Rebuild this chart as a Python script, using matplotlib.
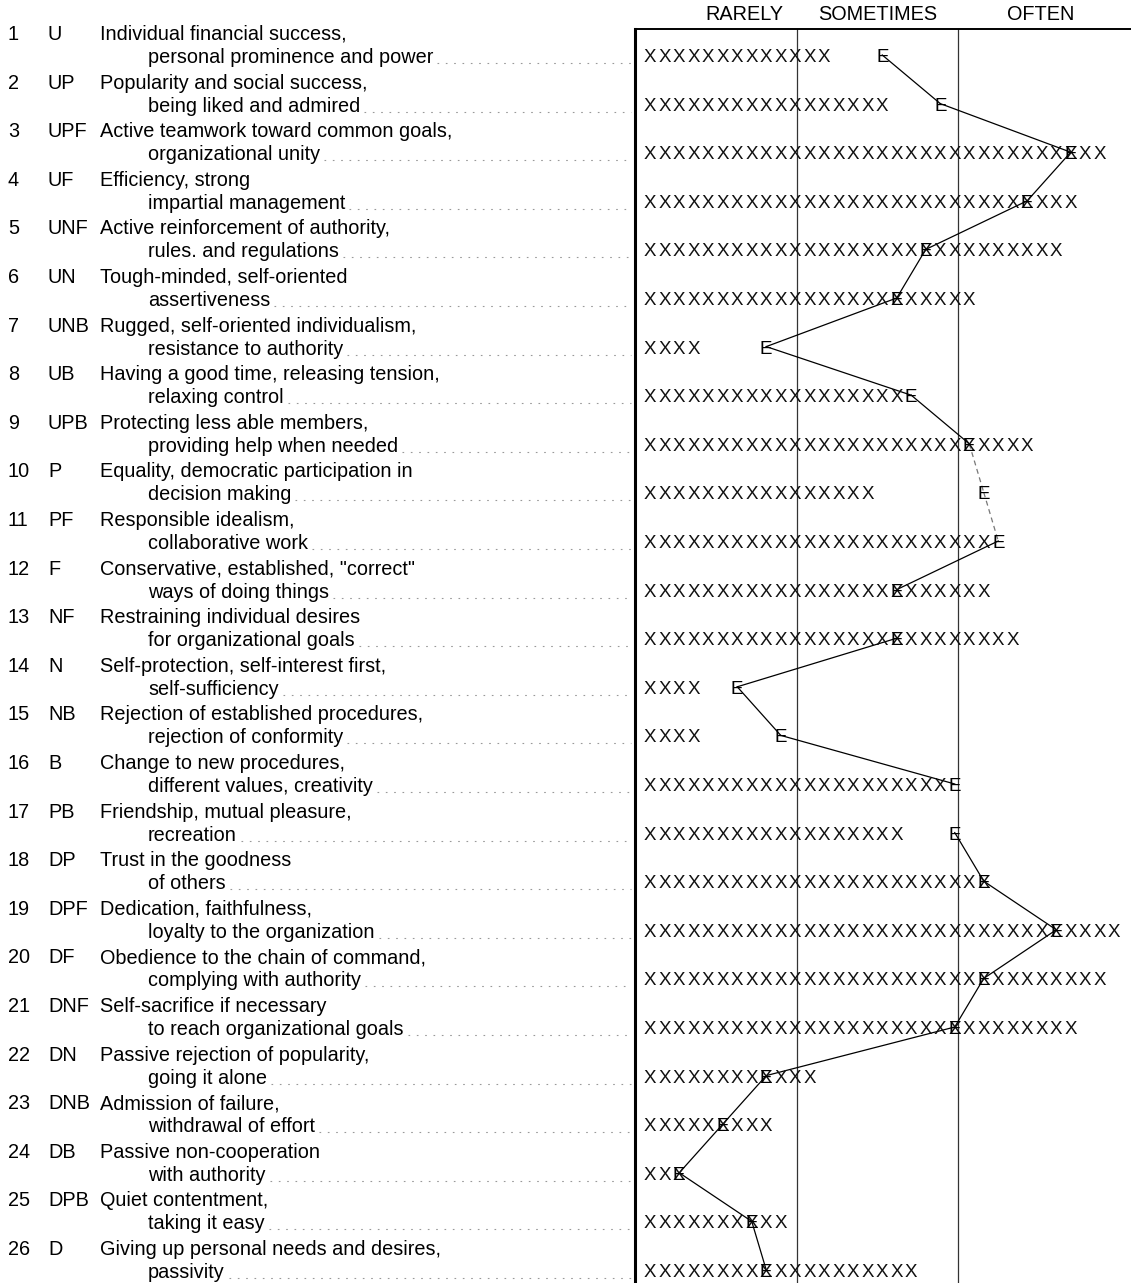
import matplotlib
matplotlib.use("Agg")
import matplotlib.pyplot as plt

plt.rcParams['font.family'] = ['Liberation Sans', 'DejaVu Sans']

# ---- data ----
rows = list(range(1, 27))
codes = ["U", "UP", "UPF", "UF", "UNF", "UN", "UNB", "UB", "UPB", "P", "PF", "F", "NF",
         "N", "NB", "B", "PB", "DP", "DPF", "DF", "DNF", "DN", "DNB", "DB", "DPB", "D"]
line1 = [
    "Individual financial success,",
    "Popularity and social success,",
    "Active teamwork toward common goals,",
    "Efficiency, strong",
    "Active reinforcement of authority,",
    "Tough-minded, self-oriented",
    "Rugged, self-oriented individualism,",
    "Having a good time, releasing tension,",
    "Protecting less able members,",
    "Equality, democratic participation in",
    "Responsible idealism,",
    "Conservative, established, \"correct\"",
    "Restraining individual desires",
    "Self-protection, self-interest first,",
    "Rejection of established procedures,",
    "Change to new procedures,",
    "Friendship, mutual pleasure,",
    "Trust in the goodness",
    "Dedication, faithfulness,",
    "Obedience to the chain of command,",
    "Self-sacrifice if necessary",
    "Passive rejection of popularity,",
    "Admission of failure,",
    "Passive non-cooperation",
    "Quiet contentment,",
    "Giving up personal needs and desires,",
]
line2 = [
    "personal prominence and power",
    "being liked and admired",
    "organizational unity",
    "impartial management",
    "rules. and regulations",
    "assertiveness",
    "resistance to authority",
    "relaxing control",
    "providing help when needed",
    "decision making",
    "collaborative work",
    "ways of doing things",
    "for organizational goals",
    "self-sufficiency",
    "rejection of conformity",
    "different values, creativity",
    "recreation",
    "of others",
    "loyalty to the organization",
    "complying with authority",
    "to reach organizational goals",
    "going it alone",
    "withdrawal of effort",
    "with authority",
    "taking it easy",
    "passivity",
]
# number of X characters printed in each row, and the column of the "E"
n_x = [13, 17, 32, 30, 29, 23, 4, 18, 27, 16, 24, 24, 26, 4, 4, 21, 18, 24, 33, 32, 30, 12, 9, 3, 10, 19]
e_pos = [16, 20, 29, 26, 19, 17, 8, 18, 22, 23, 24, 17, 17, 6, 9, 21, 21, 23, 28, 23, 21, 8, 5, 2, 7, 8]
dashed_rows = [10]
skipped_links = [(12, 13), (16, 17)]
categories = ["RARELY", "SOMETIMES", "OFTEN"]
category_centers = [7.0, 16.2, 27.4]
boundaries = [10.6, 21.7]

# ---- page geometry (pixels) ----
W, H = 1131, 1283
box_left, box_top = 635, 29
x0, pitch = 643, 14.5
y1, step = 55, 48.6
fs_x = 13.5
fs = 14.3


def row_of(py):
    return 1 + (py - y1) / step


fig = plt.figure(figsize=(W / 100, H / 100), dpi=100)
ylim = (row_of(H), row_of(box_top))
ax_h = (H - box_top) / H

ax = fig.add_axes([box_left / W, 0, 1 - box_left / W, ax_h])
ax.set_xlim((box_left - x0) / pitch, (W - x0) / pitch)
ax.set_ylim(*ylim)
ax.set_xticks([])
ax.set_yticks([])
for side in ["right", "bottom"]:
    ax.spines[side].set_visible(False)
ax.spines["left"].set_linewidth(2.2)
ax.spines["top"].set_linewidth(1.4)

axl = fig.add_axes([0, 0, box_left / W, ax_h])
axl.set_xlim(0, box_left)
axl.set_ylim(*ylim)
axl.axis("off")

base = 7 / step  # baseline offset from row centre

for b in boundaries:
    ax.axvline(b, color="#333333", lw=0.9)

for name, c in zip(categories, category_centers):
    ax.text(c, 1 + 9 / (H - box_top), name, transform=ax.get_xaxis_transform(),
            ha="center", va="baseline", fontsize=fs, clip_on=False)

# X bars
for r, n in zip(rows, n_x):
    for k in range(n):
        ax.text(k + 0.5, r + base, "X", ha="center", va="baseline", fontsize=fs_x, color="#111111")

# E profile
ex = [e + 0.5 for e in e_pos]
for i in range(len(rows) - 1):
    if (rows[i], rows[i + 1]) in skipped_links:
        continue
    dashed = rows[i] in dashed_rows or rows[i + 1] in dashed_rows
    ax.plot(ex[i:i + 2], rows[i:i + 2], color="#777777" if dashed else "black",
            lw=0.9, ls=(0, (4, 3)) if dashed else "-")
for r, e in zip(rows, ex):
    ax.text(e, r + base, "E", ha="center", va="baseline", fontsize=fs_x, color="black")

# left hand labels
texts2 = []
for r, code, a, b in zip(rows, codes, line1, line2):
    yt = r - 22 / step + base
    axl.text(8, yt, str(r), ha="left", va="baseline", fontsize=fs)
    axl.text(48, yt, code, ha="left", va="baseline", fontsize=fs)
    axl.text(100, yt, a, ha="left", va="baseline", fontsize=fs)
    texts2.append(axl.text(148, r + 1 / step + base, b, ha="left", va="baseline", fontsize=fs))

fig.canvas.draw()
inv = axl.transData.inverted()
for r, t in zip(rows, texts2):
    bb = t.get_window_extent()
    xe = inv.transform((bb.x1, bb.y0))[0]
    yb = r + 1 / step + base
    axl.plot([xe + 4, box_left - 4], [yb, yb], color="#999999", lw=0.8,
             ls=(0, (1.5, 6)))

fig.savefig("out.png", dpi=100)
